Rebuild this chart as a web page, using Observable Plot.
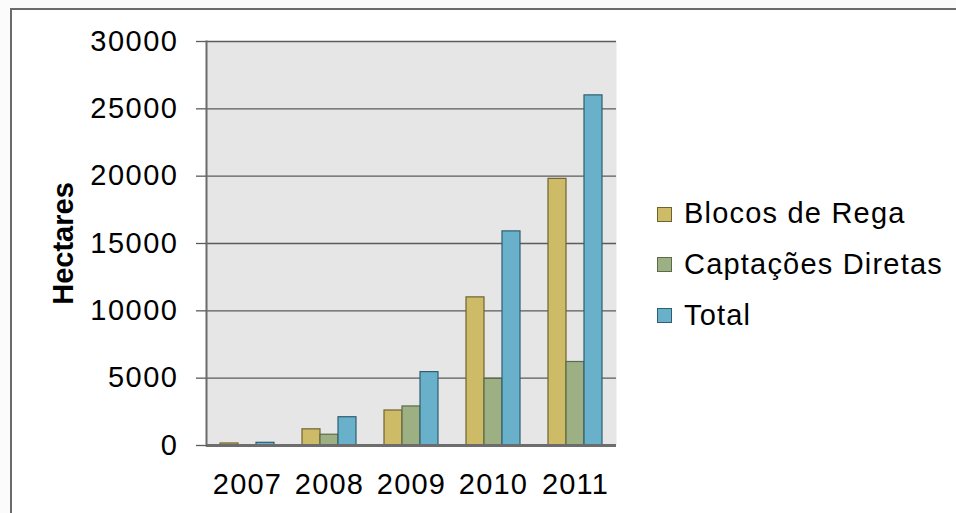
<!DOCTYPE html>
<html>
<head>
<meta charset="utf-8">
<script src="https://cdn.jsdelivr.net/npm/d3@7"></script>
<script src="https://cdn.jsdelivr.net/npm/@observablehq/plot@0.6"></script>
<style>
  html, body { margin: 0; padding: 0; background: #fbfbfb; }
  #wrap { position: relative; width: 956px; height: 513px; overflow: hidden; font-family: "Liberation Sans", Arial, sans-serif; }
  #border { position: absolute; left: 10px; top: 8px; width: 2000px; height: 2000px; background: #ffffff;
            border-top: 2px solid #6b6b6b; border-left: 2.5px solid #6b6b6b; }
  #chart { position: absolute; left: 0; top: 0; }
  #chart svg text { letter-spacing: 1.5px; }
  #chart svg [aria-label="fx-axis tick label"] text { letter-spacing: 1.2px; }
  #chart svg [aria-label="y-axis label"] text { font-weight: bold; letter-spacing: 0; }
  #legend { position: absolute; left: 657px; top: 0; }
  .row { position: absolute; left: 0; white-space: nowrap; font-size: 29px; line-height: 29px; color: #000; letter-spacing: 1.2px; }
  .sw { display: inline-block; width: 13px; height: 13px; border: 1px solid; margin-right: 12px; margin-bottom: 1.5px; vertical-align: baseline; }
</style>
</head>
<body>
<div id="wrap">
  <div id="border"></div>
  <div id="chart"></div>
  <div id="legend"></div>
</div>
<script>
// ---- data ----
const years = [2007, 2008, 2009, 2010, 2011];
const seriesNames = ["Blocos de Rega", "Captações Diretas", "Total"];
const blocosDeRega = [150, 1200, 2600, 11000, 19800];
const captacoesDiretas = [0, 800, 2900, 4950, 6200];
const total = [200, 2100, 5450, 15900, 26000];
const yTicks = [0, 5000, 10000, 15000, 20000, 25000, 30000];
const fills = ["#cebb67", "#9db083", "#69b1ca"];
const strokes = ["#6e6330", "#5c6a4a", "#2f5e6e"];

const seriesValues = [blocosDeRega, captacoesDiretas, total];
const rows = [];
seriesNames.forEach((s, i) => {
  years.forEach((y, j) => rows.push({ year: y, series: s, value: seriesValues[i][j] }));
});

const chart = Plot.plot({
  width: 640,
  height: 513,
  marginLeft: 205,
  marginRight: 24,
  marginTop: 41,
  marginBottom: 68,
  style: { fontFamily: "'Liberation Sans', Arial, sans-serif", fontSize: "29px", background: "transparent", color: "#000", overflow: "visible" },
  fx: { domain: years, padding: 0, label: null },
  x: { domain: seriesNames, paddingInner: 0, paddingOuter: 0.725, axis: null },
  y: { domain: [0, 30000], label: "Hectares" },
  marks: [
    Plot.frame({ facet: "super", fill: "#e6e6e6", stroke: "none" }),
    Plot.gridY(yTicks, { stroke: "#5b5b5b", strokeOpacity: 1, strokeWidth: 1.3 }),
    ...seriesNames.map((s, i) =>
      Plot.barY(rows.filter(d => d.series === s), {
        fx: "year", x: "series", y: "value",
        fill: fills[i], stroke: strokes[i], strokeWidth: 1.2
      })
    ),
    Plot.ruleY([0], { stroke: "#6d6d6d", strokeWidth: 3 }),
    Plot.frame({ facet: "super", anchor: "left", stroke: "#6b6b6b", strokeWidth: 2 }),
    Plot.axisY(yTicks, {
      tickSize: 10, tickPadding: 18, stroke: "#5b5b5b", strokeWidth: 1.3,
      tickFormat: d => String(d), fontSize: 29, fill: "#000",
      label: "Hectares", labelAnchor: "center", labelOffset: 154, labelArrow: "none"
    }),
    Plot.axisFx({ anchor: "bottom", tickSize: 0, tickPadding: 28, label: null, fontSize: 29, fill: "#000", tickFormat: d => String(d) })
  ]
});
document.getElementById("chart").appendChild(chart);

// ---- legend ----
const legend = document.getElementById("legend");
seriesNames.forEach((s, i) => {
  const row = document.createElement("div");
  row.className = "row";
  row.style.top = (199 + i * 50.8) + "px";
  const sw = document.createElement("span");
  sw.className = "sw";
  sw.style.background = fills[i];
  sw.style.borderColor = strokes[i];
  row.appendChild(sw);
  row.appendChild(document.createTextNode(s));
  legend.appendChild(row);
});
</script>
</body>
</html>
